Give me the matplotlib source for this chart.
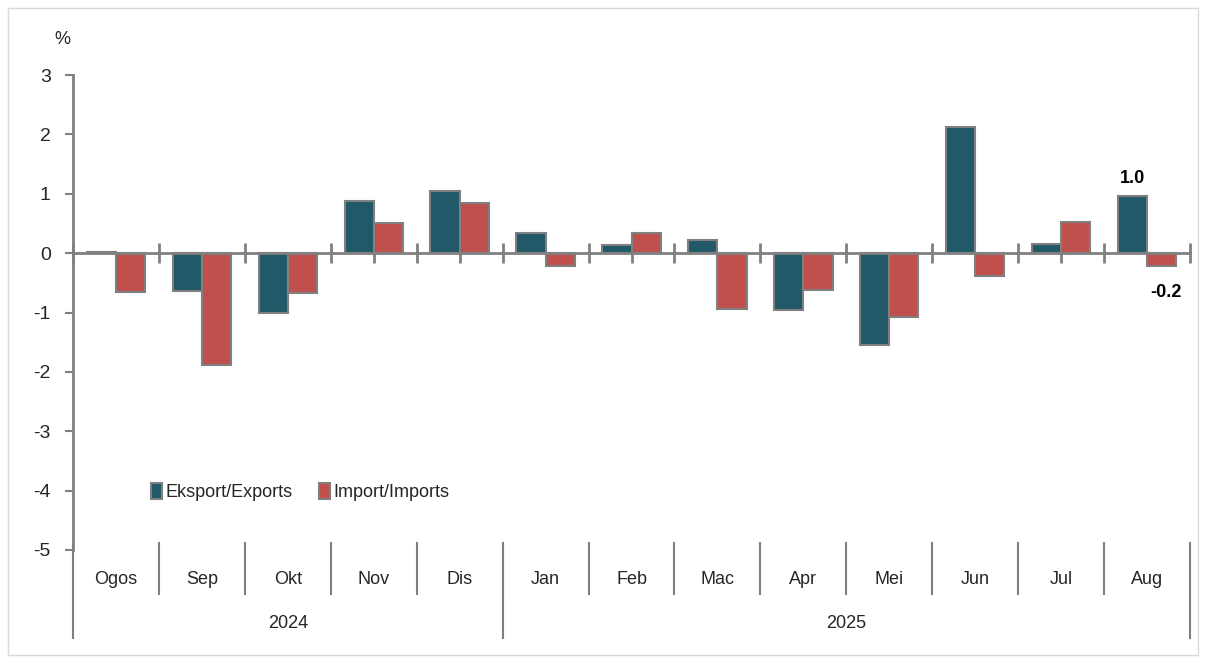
import matplotlib.pyplot as plt
from matplotlib.patches import Rectangle
import numpy as np

months = ['Ogos', 'Sep', 'Okt', 'Nov', 'Dis', 'Jan', 'Feb', 'Mac', 'Apr', 'Mei', 'Jun', 'Jul', 'Aug']
years = ['2024', '2025']
year_spans = [(0, 4), (5, 12)]
exports = [0.02, -0.64, -1.00, 0.88, 1.04, 0.34, 0.13, 0.22, -0.96, -1.55, 2.12, 0.15, 0.96]
imports = [-0.65, -1.89, -0.67, 0.50, 0.84, -0.22, 0.34, -0.94, -0.62, -1.07, -0.38, 0.52, -0.22]

plt.rcParams['font.family'] = ['Liberation Sans', 'DejaVu Sans']
plt.rcParams['axes.unicode_minus'] = False

c_exp = '#215968'
c_imp = '#c0504d'
edge = '#808080'
txt = '#262626'

fig = plt.figure(figsize=(12.05, 6.63), dpi=100)
ax = fig.add_axes([73 / 1205, 1 - 550 / 663, (1190 - 73) / 1205, 475 / 663])

x = np.arange(len(months))
w = 0.34
ax.bar(x - w / 2, exports, w, color=c_exp, edgecolor=edge, linewidth=1.5, label='Eksport/Exports', zorder=2)
ax.bar(x + w / 2, imports, w, color=c_imp, edgecolor=edge, linewidth=1.5, label='Import/Imports', zorder=2)

ax.set_xlim(-0.5, len(months) - 0.5)
ax.set_ylim(-5, 3)
ax.set_yticks(range(-5, 4))
ax.tick_params(axis='y', direction='out', length=6, width=1.5, color=edge, labelsize=14, labelcolor=txt, pad=10)

for s in ['top', 'right']:
    ax.spines[s].set_visible(False)
ax.spines['left'].set_color(edge)
ax.spines['left'].set_linewidth(2)
ax.spines['bottom'].set_position(('data', 0))
ax.spines['bottom'].set_color(edge)
ax.spines['bottom'].set_linewidth(2)
ax.spines['bottom'].set_zorder(3)

ax.set_xticks(np.arange(-0.5, len(months)), labels=[])
ax.set_xticks(x, minor=True)
ax.tick_params(axis='x', which='major', direction='inout', length=14, width=2, color=edge)
ax.tick_params(axis='x', which='minor', direction='out', length=7, width=2, color=edge)

# multi-level category axis drawn below the plot
tr = ax.get_xaxis_transform()
for i, m in enumerate(months):
    ax.text(i, -0.063, m, transform=tr, ha='center', va='center', fontsize=13, color=txt)
for i in range(1, len(months)):
    ax.plot([i - 0.5, i - 0.5], [0.015, -0.093], transform=tr, color=edge, lw=1.5, clip_on=False)
for (a, b), yr in zip(year_spans, years):
    ax.text((a + b) / 2, -0.154, yr, transform=tr, ha='center', va='center', fontsize=13, color=txt)
for xb in [-0.5, 4.5, 12.5]:
    ax.plot([xb, xb], [0.015, -0.185], transform=tr, color=edge, lw=1.5, clip_on=False)

ax.text(x[-1] - w / 2, exports[-1] + 0.15, f'{exports[-1]:.1f}', ha='center', va='bottom',
        fontsize=13, fontweight='bold', color='black')
ax.text(x[-1] + w / 2 + 0.05, imports[-1] - 0.45, f'{imports[-1]:.1f}', ha='center', va='center',
        fontsize=13, fontweight='bold', color='black')

ax.legend(loc='upper left', bbox_to_anchor=(0.055, 0.175), ncol=2, frameon=False, fontsize=13,
          handlelength=0.6, handleheight=1.0, handletextpad=0.2, columnspacing=1.5, labelcolor=txt)

fig.text(62 / 1205, 1 - 40 / 663, '%', ha='center', va='center', fontsize=13, color=txt)
fig.patches.append(Rectangle((8 / 1205, 1 - 655 / 663), 1190 / 1205, 647 / 663, transform=fig.transFigure,
                             fill=False, edgecolor='#d9d9d9', linewidth=1))

fig.savefig('out.png', dpi=100)
